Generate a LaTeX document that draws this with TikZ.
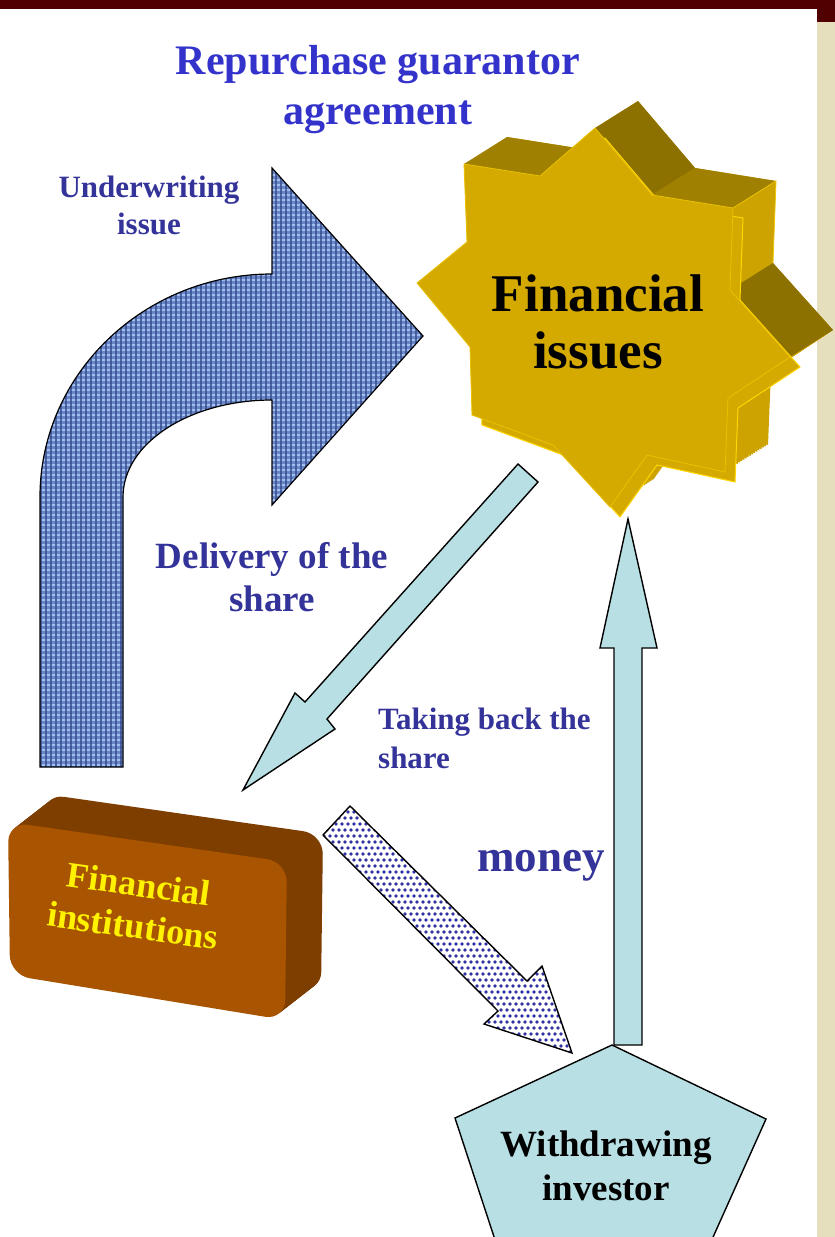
\documentclass[tikz,border=0pt]{standalone}
\usepackage{fontspec}
\setmainfont{Liberation Serif}

\definecolor{barmaroon}{RGB}{80,0,0}
\definecolor{parchment}{RGB}{230,223,190}
\definecolor{titleblue}{RGB}{51,51,204}
\definecolor{labelblue}{RGB}{51,51,153}
\definecolor{gold}{RGB}{212,170,0}
\definecolor{goldside}{RGB}{204,163,0}
\definecolor{golddark}{RGB}{140,112,0}
\definecolor{goldmid}{RGB}{160,128,0}
\definecolor{goldrim}{RGB}{255,215,0}
\definecolor{brownfront}{RGB}{168,84,0}
\definecolor{browntop}{RGB}{126,62,0}
\definecolor{paleteal}{RGB}{184,224,228}
\definecolor{weaveblue}{RGB}{105,135,198}
\definecolor{weavedark}{RGB}{55,78,145}
\definecolor{weavelight}{RGB}{160,190,238}
\definecolor{dotblue}{RGB}{50,50,165}

\tikzset{
  outline/.style={draw=black, line width=1.4pt, line join=miter},
  blockarrow/.style={outline, fill=paleteal},
  flowlabel/.style={text=labelblue, align=center, inner sep=0pt},
}

\begin{document}
\begin{tikzpicture}[x=1pt, y=-1pt]
        % Page frame
        \useasboundingbox (0,0) rectangle (835,1237);
        \clip (0,0) rectangle (835,1237);
        \fill[white] (0,0) rectangle (835,1237);
        \fill[parchment] (817,0) rectangle (835,1237);
        \fill[barmaroon] (0,0) rectangle (835,9);
        \fill[barmaroon] (817,0) rectangle (835,22);

        % Star: Financial issues
        \def\starpath{(464,164) -- (540,176) -- (595,128) -- (652,195) -- (733,208) -- (730,290) -- (790,357) -- (728,398) -- (725,472) -- (647,455) -- (610,507) -- (553,445) -- (472,415) -- (470,347) -- (417,283) -- (467,242) -- cycle}
        \foreach \k in {20,...,1}
            \fill[goldside, shift={(2.15*\k,-1.35*\k)}] \starpath;
        % faces turned upwards
        \fill[goldmid] (464,164) -- (540,176) -- (583,149) -- (507,137) -- cycle;
        \fill[golddark] (595,128) -- (652,195) -- (695,168) -- (638,101) -- cycle;
        \fill[goldmid] (652,195) -- (733,208) -- (776,181) -- (695,168) -- cycle;
        \fill[golddark] (730,290) -- (790,357) -- (833,330) -- (773,263) -- cycle;
        \draw[goldrim!60!gold, line width=0.8pt] (733,208) -- (776,181) -- (773,263);
        \fill[gold, shift={(10,10)}] \starpath;
        \draw[goldrim, line width=1pt, shift={(10,10)}] \starpath;
        \fill[gold] \starpath;
        \draw[goldrim!50!gold, line width=0.8pt] \starpath;
        \node[inner sep=0pt, align=center, font=\fontsize{53pt}{57pt}\selectfont\bfseries] (issues) at (598,322) {Financial\\issues};

        % Brown box: Financial institutions
        \def\boxpath{[rounded corners=20pt] (8,822) -- (287,862) -- (285,1020) -- (10,975) -- cycle}
        \foreach \k in {20,...,1}
            \fill[browntop, shift={(1.8*\k,-1.4*\k)}] \boxpath;
        \fill[brownfront] \boxpath;
        \node[inner sep=0pt, text=yellow, rotate=-8, align=center, font=\fontsize{36pt}{42pt}\selectfont\bfseries] (institutions) at (136,905) {Financial\\institutions};

        % Pentagon: Withdrawing investor
        \draw[outline, fill=paleteal] (612,1045) -- (766,1119) -- (705,1255) -- (500,1255) -- (455,1118) -- cycle;
        \node[inner sep=0pt, align=center, font=\fontsize{37pt}{44pt}\selectfont\bfseries] (investor) at (606,1166) {Withdrawing\\investor};

        % Bent arrow (underwriting), woven fill
        \def\bentpath{(40,767) -- (40,497) .. controls (40,374) and (144,274) .. (272,274) -- (272,168) -- (423,336) -- (272,505) -- (272,400) .. controls (190,400) and (123,443) .. (123,497) -- (123,767) -- cycle}
        \begin{scope}
            \clip \bentpath;
            \fill[weaveblue] (30,160) rectangle (430,780);
            \foreach \j in {0,...,124}
                \draw[weavelight, line width=1.3pt] (30,160+5*\j) -- ++(400,0);
            \foreach \i in {0,...,80}
                \draw[weavedark, line width=1.3pt, opacity=0.8] (31+5*\i,160) -- ++(0,620);
        \end{scope}
        \draw[outline, line width=1.2pt] \bentpath;

        % Delivery arrow
        \draw[blockarrow] (518,464) -- (538,482) -- (327,719) -- (335,729) -- (243,790) -- (295,693) -- (305,702) -- cycle;

        % Taking back arrow, dotted fill
        \def\dotpath{(350,806) -- (527,981) -- (542,966) -- (572,1053) -- (484,1024) -- (498,1011) -- (323,835) -- cycle}
        \fill[white] \dotpath;
        \begin{scope}
            \clip \dotpath;
            \foreach \j in {0,...,44}
                \foreach \i in {0,...,44}
                    \fill[dotblue] ({318+6*\i+3*mod(\j,2)}, {800+6*\j}) circle (1.9);
        \end{scope}
        \draw[outline] \dotpath;

        % Money arrow
        \draw[blockarrow] (614,1045) -- (614,648) -- (600,648) -- (628,519) -- (657,648) -- (642,648) -- (642,1045) -- cycle;

        % Labels
        \node[inner sep=0pt, text=titleblue, align=center, font=\fontsize{42pt}{50pt}\selectfont\bfseries] (title) at (378,90) {Repurchase guarantor\\agreement};
        \node[flowlabel, font=\fontsize{31pt}{37pt}\selectfont\bfseries] (underwriting) at (149,205) {Underwriting\\issue};
        \node[flowlabel, font=\fontsize{37pt}{43pt}\selectfont\bfseries] (delivery) at (272,577) {Delivery of the\\share};
        \node[flowlabel, align=left, anchor=west, font=\fontsize{31pt}{39pt}\selectfont\bfseries] (takingback) at (378,738) {Taking back the\\share};
        \node[flowlabel, font=\fontsize{45pt}{50pt}\selectfont\bfseries] (money) at (541,866) {money};
\end{tikzpicture}
\end{document}
